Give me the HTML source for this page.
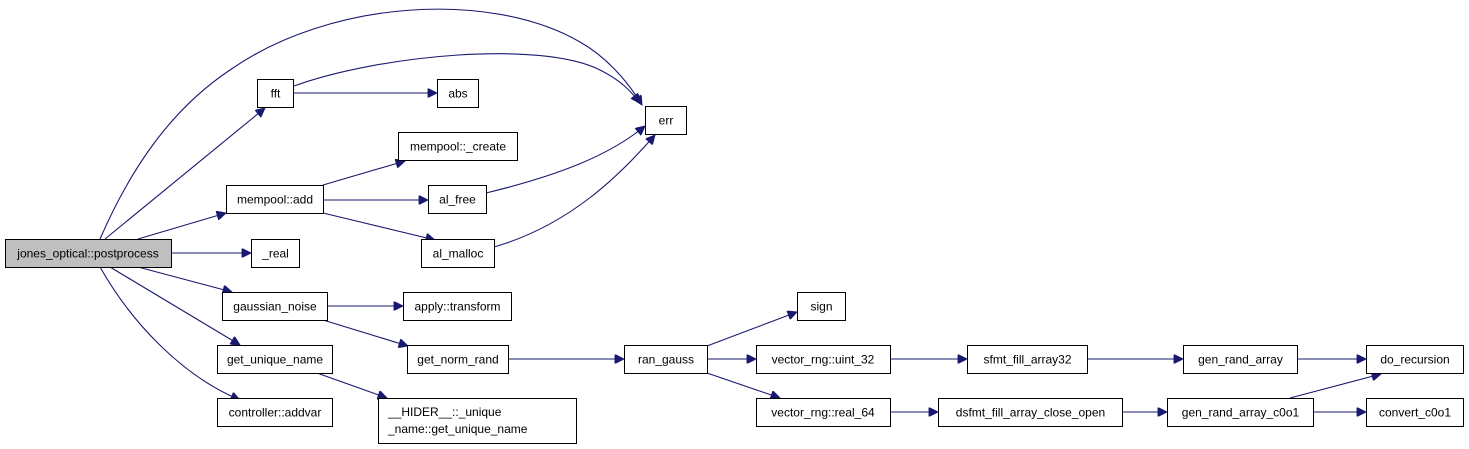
<!DOCTYPE html>
<html><head><meta charset="utf-8"><style>
html,body{margin:0;padding:0;background:#fff;}
svg{display:block;}
text{font-family:"Liberation Sans",sans-serif;font-size:12px;fill:#000;}
.e{fill:none;stroke:#191970;stroke-width:1.1;}
.b{fill:#fff;stroke:#000;stroke-width:1;}
</style></head><body>
<svg width="1469" height="449" viewBox="0 0 1469 449" xmlns="http://www.w3.org/2000/svg">
<defs><marker id="a" viewBox="0 0 10 10" refX="10" refY="5" markerWidth="12" markerHeight="9" markerUnits="userSpaceOnUse" orient="auto"><path d="M0,0 L10,5 L0,10 z" fill="#191970" stroke="#191970"/></marker></defs>
<g class="e" marker-end="url(#a)">
<path d="M100,239 C130,170 170,110 230,70 C330,0 490,-10 580,42 C605,56 627,80 642,105"/>
<path d="M294,86 C380,55 540,40 600,70 C620,80 630,90 640,103"/>
<path d="M293,93 L437,93"/>
<path d="M105,239 L265,108"/>
<path d="M138,239 L226,213"/>
<path d="M323,185 L405,161"/>
<path d="M323,200 L428,200"/>
<path d="M323,213 L435,240"/>
<path d="M486,193 C560,175 610,155 645,126"/>
<path d="M494,247 C570,225 620,175 655,135"/>
<path d="M171,253 L251,253"/>
<path d="M138,267 L232,292"/>
<path d="M110,267 L240,345"/>
<path d="M100,267 C130,320 180,375 240,400"/>
<path d="M327,306 L403,306"/>
<path d="M323,320 L408,346"/>
<path d="M317,373 L387,398"/>
<path d="M508,359 L624,359"/>
<path d="M707,346 L797,312"/>
<path d="M707,359 L756,359"/>
<path d="M707,373 L780,398"/>
<path d="M890,359 L967,359"/>
<path d="M1087,359 L1183,359"/>
<path d="M1297,359 L1366,359"/>
<path d="M890,412 L938,412"/>
<path d="M1122,412 L1167,412"/>
<path d="M1313,412 L1366,412"/>
<path d="M1290,398 L1381,374"/>
</g>
<rect x="5.5" y="239.5" width="166" height="28" fill="#bfbfbf" stroke="#000"/>
<text x="88" y="257.5" text-anchor="middle">jones_optical::postprocess</text>
<g class="b">
<rect x="257.5" y="79.5" width="36" height="28"/>
<rect x="437.5" y="79.5" width="41" height="28"/>
<rect x="645.5" y="106.5" width="41" height="28"/>
<rect x="398.5" y="132.5" width="119" height="28"/>
<rect x="226.5" y="185.5" width="97" height="28"/>
<rect x="428.5" y="185.5" width="58" height="28"/>
<rect x="421.5" y="239.5" width="73" height="28"/>
<rect x="251.5" y="239.5" width="48" height="28"/>
<rect x="222.5" y="292.5" width="105" height="28"/>
<rect x="403.5" y="292.5" width="108" height="28"/>
<rect x="217.5" y="345.5" width="115" height="28"/>
<rect x="407.5" y="345.5" width="101" height="28"/>
<rect x="217.5" y="398.5" width="115" height="28"/>
<rect x="378.5" y="398.5" width="198" height="45"/>
<rect x="797.5" y="292.5" width="48" height="28"/>
<rect x="624.5" y="345.5" width="83" height="28"/>
<rect x="756.5" y="345.5" width="134" height="28"/>
<rect x="967.5" y="345.5" width="120" height="28"/>
<rect x="1183.5" y="345.5" width="114" height="28"/>
<rect x="1366.5" y="345.5" width="97" height="28"/>
<rect x="756.5" y="398.5" width="134" height="28"/>
<rect x="938.5" y="398.5" width="184" height="28"/>
<rect x="1167.5" y="398.5" width="146" height="28"/>
<rect x="1366.5" y="398.5" width="97" height="28"/>
</g>
<g text-anchor="middle">
<text x="275.5" y="97.5">fft</text>
<text x="458" y="97.5">abs</text>
<text x="666" y="124.5">err</text>
<text x="458" y="150.5">mempool::_create</text>
<text x="275" y="203.5">mempool::add</text>
<text x="457.5" y="203.5">al_free</text>
<text x="458" y="257.5">al_malloc</text>
<text x="275.5" y="257.5">_real</text>
<text x="275" y="310.5">gaussian_noise</text>
<text x="457.5" y="310.5">apply::transform</text>
<text x="275" y="363.5">get_unique_name</text>
<text x="458" y="363.5">get_norm_rand</text>
<text x="275" y="416.5">controller::addvar</text>
<text x="821.5" y="310.5">sign</text>
<text x="666" y="363.5">ran_gauss</text>
<text x="823" y="363.5">vector_rng::uint_32</text>
<text x="1027.5" y="363.5">sfmt_fill_array32</text>
<text x="1240.5" y="363.5">gen_rand_array</text>
<text x="1415" y="363.5">do_recursion</text>
<text x="823" y="416.5">vector_rng::real_64</text>
<text x="1030.5" y="416.5">dsfmt_fill_array_close_open</text>
<text x="1240.5" y="416.5">gen_rand_array_c0o1</text>
<text x="1415" y="416.5">convert_c0o1</text>
</g>
<text x="388" y="416">__HIDER__::_unique</text>
<text x="388" y="433">_name::get_unique_name</text>
</svg>
</body></html>
